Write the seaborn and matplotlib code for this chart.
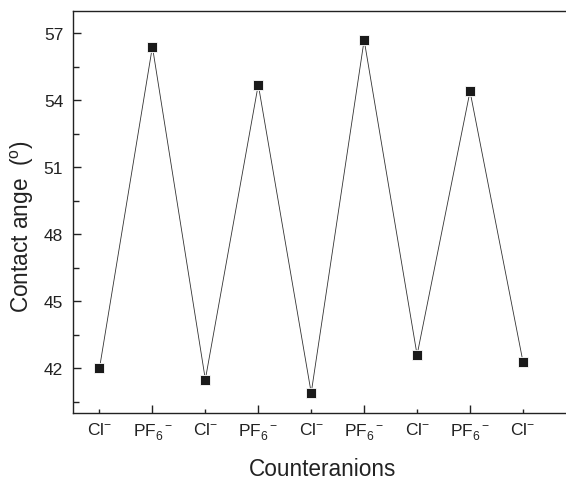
import matplotlib
matplotlib.use("Agg")
import matplotlib.pyplot as plt
import seaborn as sns
import numpy as np
import pandas as pd
from matplotlib.ticker import MultipleLocator

# Data
anions = ["Cl", "PF6", "Cl", "PF6", "Cl", "PF6", "Cl", "PF6", "Cl"]
cycle = [1, 2, 3, 4, 5, 6, 7, 8, 9]
contact_angle = [42.0, 56.4, 41.5, 54.7, 40.9, 56.7, 42.6, 54.4, 42.3]
tick_text = {"Cl": r"Cl$^{-}$", "PF6": r"PF$_{6}^{\ \ -}$"}
y_ticks = [42, 45, 48, 51, 54, 57]

sns.set_style("ticks")
plt.rcParams["font.family"] = ["Liberation Sans", "DejaVu Sans"]
plt.rcParams["mathtext.fontset"] = "custom"
plt.rcParams["mathtext.rm"] = "Liberation Sans"
plt.rcParams["mathtext.it"] = "Liberation Sans:italic"
plt.rcParams["mathtext.bf"] = "Liberation Sans:bold"

df = pd.DataFrame({"cycle": cycle, "angle": contact_angle, "anion": anions})

fig = plt.figure(figsize=(5.66, 4.81), dpi=100)
ax = fig.add_axes([73/566, 67/481, (566-73)/566 + 0.01, 402/481])

sns.lineplot(data=df, x="cycle", y="angle", ax=ax, color="#333333", lw=0.6,
             marker="s", markersize=7, markerfacecolor="#1a1a1a",
             markeredgecolor="white", markeredgewidth=0.6)

ax.set_xlim(0.5, 9.92)
ax.set_ylim(40, 58)
ax.set_yticks(y_ticks)
ax.yaxis.set_minor_locator(MultipleLocator(1.5))
ax.set_xticks(cycle)
ax.set_xticklabels([tick_text[a] for a in anions])

for s in ["left", "bottom", "top"]:
    ax.spines[s].set_visible(True)
    ax.spines[s].set_linewidth(1.0)
    ax.spines[s].set_color("#222222")
ax.spines["right"].set_visible(False)

ax.tick_params(axis="y", which="major", direction="in", length=6, width=1, labelsize=12.5, pad=7, colors="#222222")
ax.tick_params(axis="y", which="minor", direction="in", length=4, width=1, colors="#222222")
ax.tick_params(axis="x", which="major", direction="in", length=6, width=1, labelsize=12.5, pad=6, colors="#222222")
for i, t in enumerate(ax.xaxis.get_major_ticks()):
    if anions[i] == "Cl":
        t.tick1line.set_markersize(3)

ax.set_xlabel("Counteranions", fontsize=16.3, labelpad=11, color="#222222")
ax.set_ylabel(r"Contact ange  ($^{\mathrm{o}}$)", fontsize=16.3, labelpad=3, color="#222222")
ax.yaxis.set_label_coords(-0.075, 0.465)

fig.savefig("out.png", dpi=100)
